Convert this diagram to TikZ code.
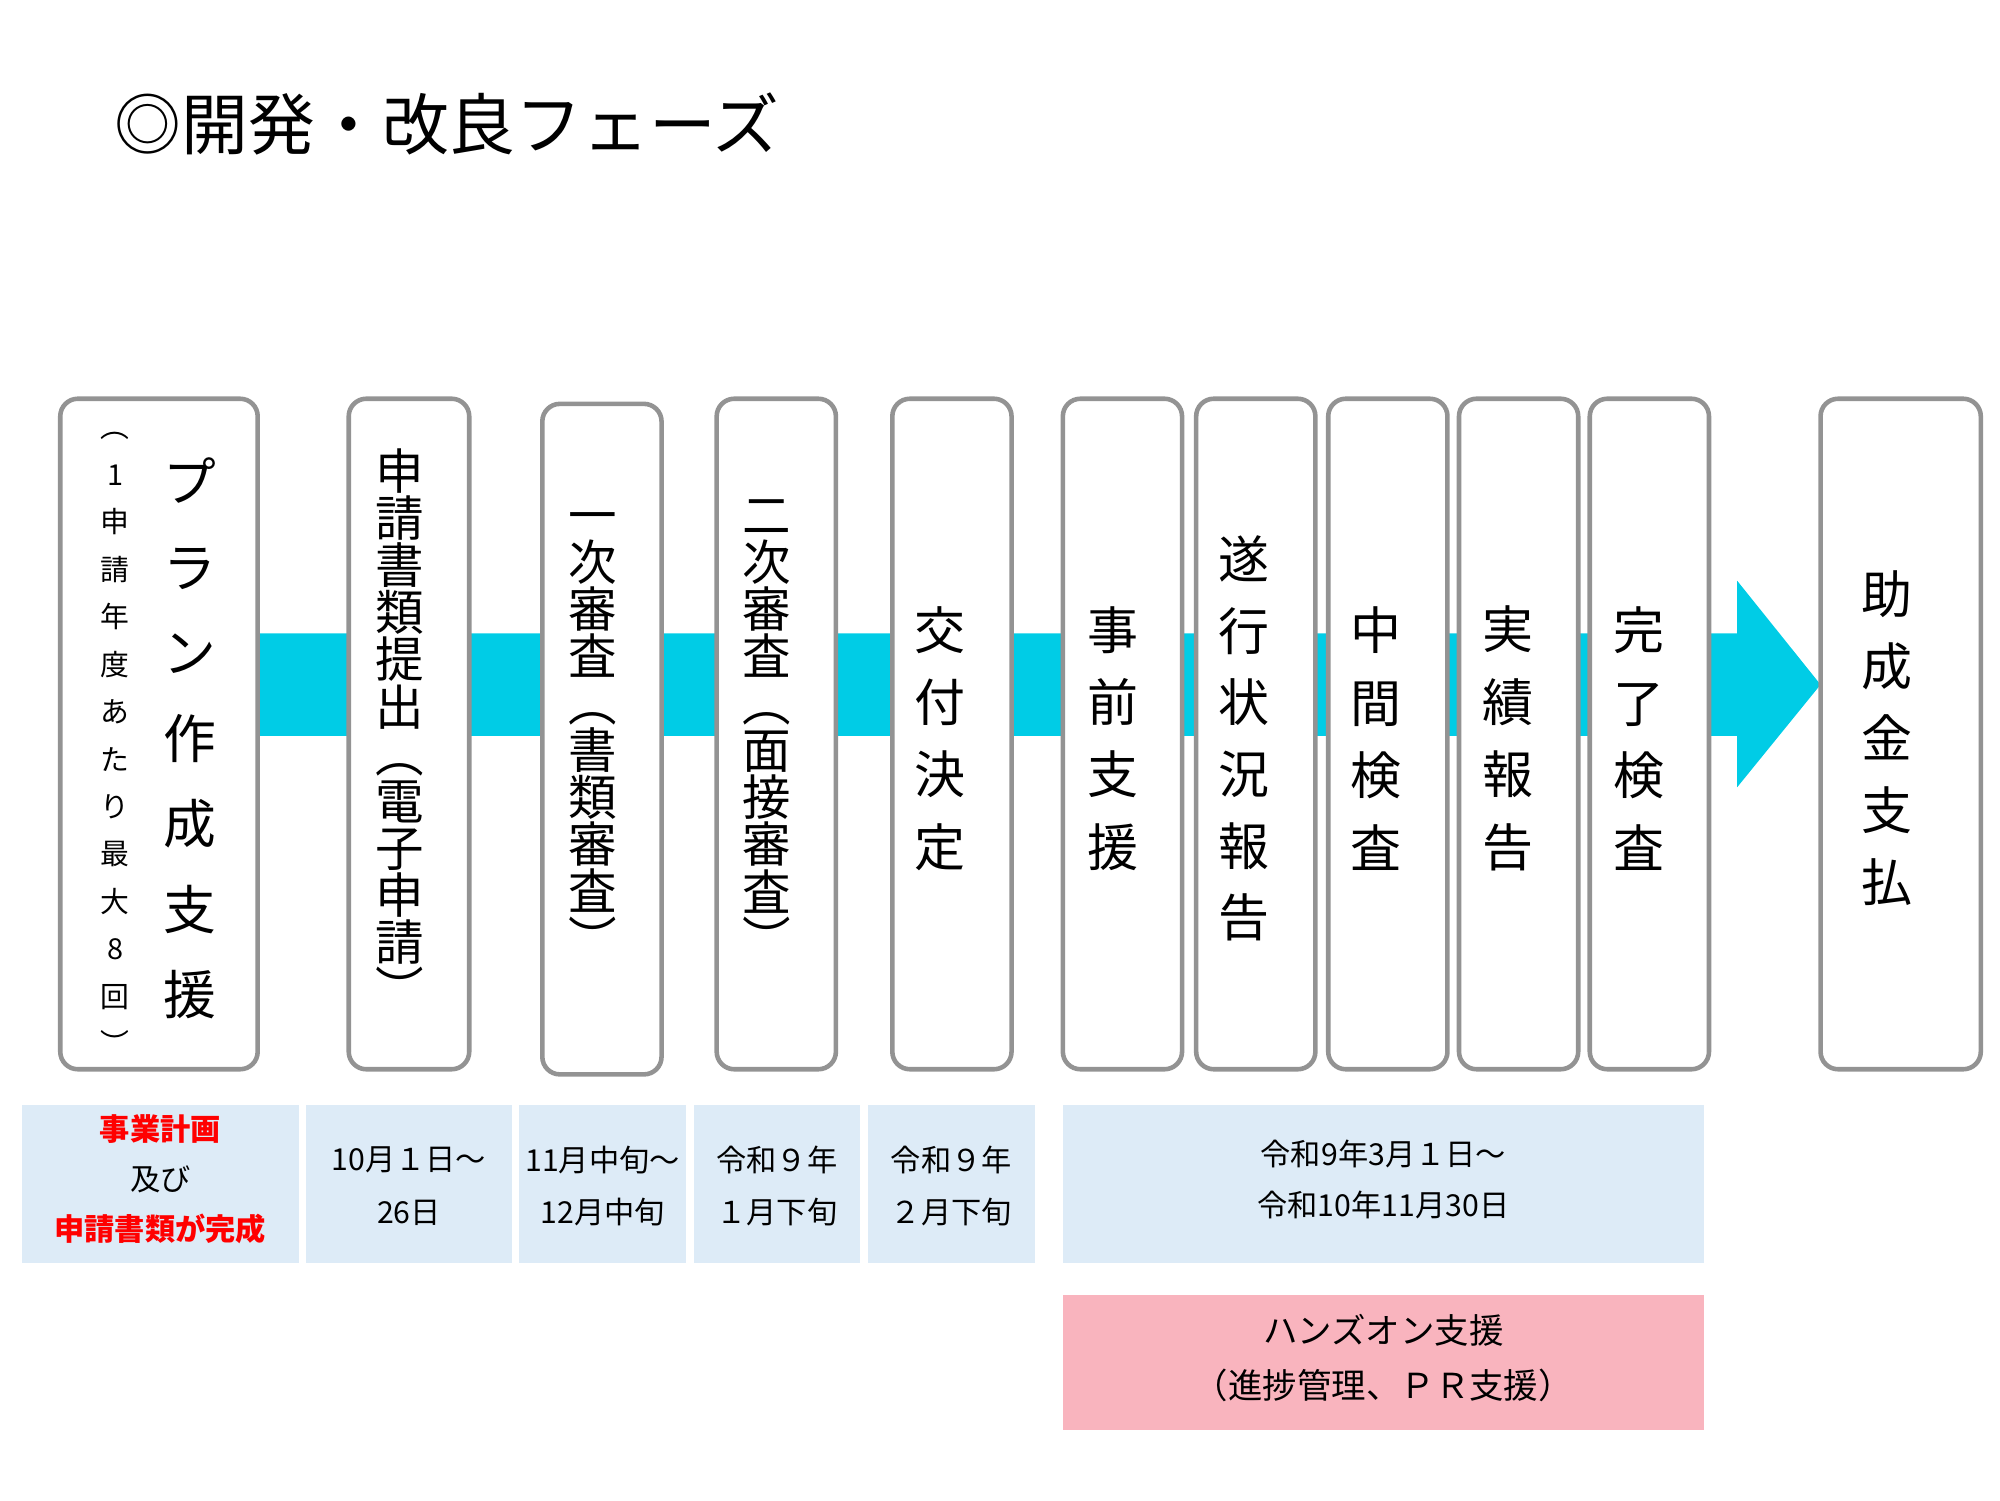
\documentclass[tikz,border=0pt]{standalone}
\usepackage{fontspec}
\setmainfont{Noto Sans CJK JP}
\definecolor{lblue}{RGB}{221,235,247}
\definecolor{lpink}{RGB}{249,180,190}
\definecolor{band}{RGB}{0,204,230}
\begin{document}
\begin{tikzpicture}[x=0.01282cm,y=-0.01282cm,
 bx/.style={draw=gray!85,line width=1.3pt,rounded corners=5pt,fill=white},
 vt/.style={align=center,inner sep=0pt},
 lb/.style={fill=lblue,draw=none},
 sm/.style={align=center,font=\fontsize{8.6pt}{15pt}\selectfont}]
\useasboundingbox (0,0) rectangle (1560,1170);
\node[anchor=west,font=\fontsize{19pt}{22pt}\selectfont] (title) at (80,97) {◎開発・改良フェーズ};
% arrow
\fill[band] (201,494) -- (1355,494) -- (1355,453) -- (1420,534) -- (1355,614) -- (1355,574) -- (201,574) -- cycle;
% boxes
\draw[bx] (47,311) rectangle (201,834);
\draw[bx] (272,311) rectangle (366,834);
\draw[bx] (423,315) rectangle (516,838);
\draw[bx] (559,311) rectangle (652,834);
\draw[bx] (696,311) rectangle (789,834);
\draw[bx] (829,311) rectangle (922,834);
\draw[bx] (933,311) rectangle (1026,834);
\draw[bx] (1036,311) rectangle (1129,834);
\draw[bx] (1138,311) rectangle (1231,834);
\draw[bx] (1240,311) rectangle (1333,834);
\draw[bx] (1420,311) rectangle (1545,834);
% texts
\node[vt,font=\fontsize{15pt}{24.3pt}\selectfont] (t1) at (148,576) {プ\\ラ\\ン\\作\\成\\支\\援};
\node[vt,font=\fontsize{8.2pt}{13.5pt}\selectfont] (t1s) at (90,580) {︵\\1\\申\\請\\年\\度\\あ\\た\\り\\最\\大\\8\\回\\︶};
\node[vt,font=\fontsize{13.8pt}{13.4pt}\selectfont] (t2) at (312,568) {申\\請\\書\\類\\提\\出\\︵\\電\\子\\申\\請\\︶};
\node[vt,font=\fontsize{13.8pt}{13.4pt}\selectfont] (t3) at (462,573) {一\\次\\審\\査\\︵\\書\\類\\審\\査\\︶};
\node[vt,font=\fontsize{13.8pt}{13.4pt}\selectfont] (t4) at (598,568) {二\\次\\審\\査\\︵\\面\\接\\審\\査\\︶};
\node[vt,font=\fontsize{14.5pt}{20.6pt}\selectfont] (t5) at (733,576) {交\\付\\決\\定};
\node[vt,font=\fontsize{14.5pt}{20.6pt}\selectfont] (t6) at (868,576) {事\\前\\支\\援};
\node[vt,font=\fontsize{14.5pt}{20.4pt}\selectfont] (t7) at (970,576) {遂\\行\\状\\況\\報\\告};
\node[vt,font=\fontsize{14.5pt}{20.6pt}\selectfont] (t8) at (1073,576) {中\\間\\検\\査};
\node[vt,font=\fontsize{14.5pt}{20.6pt}\selectfont] (t9) at (1176,576) {実\\績\\報\\告};
\node[vt,font=\fontsize{14.5pt}{20.6pt}\selectfont] (t10) at (1278,576) {完\\了\\検\\査};
\node[vt,font=\fontsize{14.5pt}{20.5pt}\selectfont] (t11) at (1472,576) {助\\成\\金\\支\\払};
% bottom
\fill[lb] (17,862) rectangle (233,985);
\fill[lb] (239,862) rectangle (399,985);
\fill[lb] (405,862) rectangle (535,985);
\fill[lb] (541,862) rectangle (671,985);
\fill[lb] (677,862) rectangle (807,985);
\fill[lb] (829,862) rectangle (1329,985);
\fill[lpink] (829,1010) rectangle (1329,1115);
\node[sm,font=\fontsize{8.6pt}{14.2pt}\selectfont] (b1) at (125,920) {\textcolor{red}{\bfseries 事業計画}\\及び\\\textcolor{red}{\bfseries 申請書類が完成}};
\node[sm] (b2) at (319,925) {10月１日～\\26日};
\node[sm] (b3) at (470,925) {11月中旬～\\12月中旬};
\node[sm] (b4) at (606,925) {令和９年\\１月下旬};
\node[sm] (b5) at (742,925) {令和９年\\２月下旬};
\node[sm,font=\fontsize{8.6pt}{14.5pt}\selectfont] (b6) at (1079,920) {令和9年3月１日～\\令和10年11月30日};
\node[sm,font=\fontsize{9.8pt}{15.6pt}\selectfont] (b7) at (1079,1059) {ハンズオン支援\\（進捗管理、ＰＲ支援）};
\end{tikzpicture}
\end{document}
